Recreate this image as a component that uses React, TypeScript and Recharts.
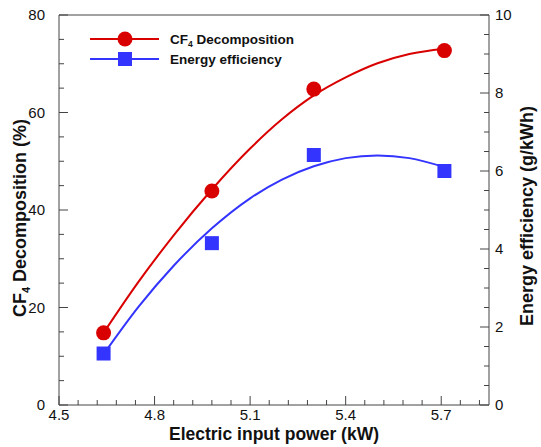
import { ComposedChart, Line, Scatter, XAxis, YAxis, ReferenceLine, Legend } from "recharts";

// measured points
const powerMeasured = [4.64, 4.98, 5.3, 5.71];
const decompMeasured = [14.8, 43.9, 64.8, 72.7];
const effMeasured = [1.32, 4.15, 6.41, 6.0];

// fitted curves
const powerFit = [4.64, 4.75, 4.86, 4.98, 5.1, 5.2, 5.3, 5.4, 5.5, 5.6, 5.71];
const decompFit = [14.8, 25.3, 34.8, 44.2, 52.6, 58.6, 63.5, 67.2, 70.1, 72.0, 73.1];
const effFit = [1.3, 2.52, 3.57, 4.53, 5.3, 5.78, 6.12, 6.33, 6.4, 6.33, 6.1];

const xTicks = [4.5, 4.56, 4.62, 4.68, 4.74, 4.8, 4.86, 4.92, 4.98, 5.04, 5.1, 5.16, 5.22, 5.28, 5.34, 5.4, 5.46, 5.52, 5.58, 5.64, 5.7, 5.76, 5.82];
const xMajor = [4.5, 4.8, 5.1, 5.4, 5.7];
const leftTicks = [0, 5, 10, 15, 20, 25, 30, 35, 40, 45, 50, 55, 60, 65, 70, 75, 80];
const leftMajor = [0, 20, 40, 60, 80];
const rightTicks = [0, 0.5, 1, 1.5, 2, 2.5, 3, 3.5, 4, 4.5, 5, 5.5, 6, 6.5, 7, 7.5, 8, 8.5, 9, 9.5, 10];
const rightMajor = [0, 2, 4, 6, 8, 10];

const fitData = powerFit.map((x, i) => ({ x, decomp: decompFit[i], eff: effFit[i] }));
const decompPoints = powerMeasured.map((x, i) => ({ x, y: decompMeasured[i] }));
const effPoints = powerMeasured.map((x, i) => ({ x, y: effMeasured[i] }));

const RED = "#d90000";
const BLUE = "#3434ff";
const AXIS = "#444";
const FONT = "'Liberation Sans', Arial, sans-serif";

const XTick = (props: any) => {
  const { x, y, payload } = props;
  const major = xMajor.includes(payload.value);
  return (
    <g>
      <line x1={x} x2={x} y1={y} y2={y - (major ? 9 : 5)} stroke={AXIS} />
      {major && (
        <text x={x} y={y + 15} textAnchor="middle" fontSize={15} fontFamily={FONT} fill="#111">
          {payload.value.toFixed(1)}
        </text>
      )}
    </g>
  );
};

const LeftTick = (props: any) => {
  const { x, y, payload } = props;
  const major = leftMajor.includes(payload.value);
  return (
    <g>
      <line x1={x} x2={x + (major ? 9 : 5)} y1={y} y2={y} stroke={AXIS} />
      {major && (
        <text x={x - 14} y={y + 5} textAnchor="end" fontSize={15} fontFamily={FONT} fill="#111">
          {payload.value}
        </text>
      )}
    </g>
  );
};

const RightTick = (props: any) => {
  const { x, y, payload } = props;
  const major = rightMajor.includes(payload.value);
  return (
    <g>
      <line x1={x} x2={x - (major ? 9 : 5)} y1={y} y2={y} stroke={AXIS} />
      {major && (
        <text x={x + 6} y={y + 5} textAnchor="start" fontSize={15} fontFamily={FONT} fill="#111">
          {payload.value}
        </text>
      )}
    </g>
  );
};

const BottomTitle = () => (
  <text x={274} y={439.5} textAnchor="middle" fontSize={17.5} fontWeight="bold" fontFamily={FONT} fill="#111">
    Electric input power (kW)
  </text>
);

const LeftTitle = () => (
  <text x={26} y={218} transform="rotate(-90, 26, 218)" textAnchor="middle" fontSize={18} fontWeight="bold" fontFamily={FONT} fill="#111">
    <tspan>CF</tspan>
    <tspan fontSize={11} dy={4}>4</tspan>
    <tspan dy={-4}> Decomposition (%)</tspan>
  </text>
);

const RightTitle = () => (
  <text x={533} y={216} transform="rotate(-90, 533, 216)" textAnchor="middle" fontSize={18} fontWeight="bold" fontFamily={FONT} fill="#111">
    Energy efficiency (g/kWh)
  </text>
);

const Circle = (props: any) => <circle cx={props.cx} cy={props.cy} r={7.5} fill={RED} />;
const Square = (props: any) => <rect x={props.cx - 7} y={props.cy - 7} width={14} height={14} fill={BLUE} />;

const LegendBox = () => (
  <svg width={240} height={46}>
    <line x1={10} x2={79} y1={14} y2={14} stroke={RED} strokeWidth={2} />
    <circle cx={45} cy={14} r={7.5} fill={RED} />
    <text x={90} y={19} fontSize={13.5} fontWeight="bold" fontFamily={FONT} fill="#111">
      <tspan>CF</tspan>
      <tspan fontSize={8.5} dy={3}>4</tspan>
      <tspan dy={-3}> Decomposition</tspan>
    </text>
    <line x1={10} x2={79} y1={34} y2={34} stroke={BLUE} strokeWidth={2} />
    <rect x={38} y={27} width={14} height={14} fill={BLUE} />
    <text x={90} y={39} fontSize={13.5} fontWeight="bold" fontFamily={FONT} fill="#111">
      Energy efficiency
    </text>
  </svg>
);

export default function App() {
  return (
    <div style={{ position: "absolute", left: 0, top: 0, width: 541, height: 447, overflow: "hidden", background: "#fff" }}>
      <ComposedChart width={541} height={447} data={fitData} margin={{ top: 15, right: 0, bottom: 0, left: 0 }}>
        <XAxis
          dataKey="x"
          type="number"
          domain={[4.5, 5.85]}
          ticks={xTicks}
          interval={0}
          tickSize={0}
          tickMargin={0}
          tick={<XTick />}
          height={42}
          stroke={AXIS}
          label={<BottomTitle />}
        />
        <YAxis
          yAxisId="left"
          type="number"
          domain={[0, 80]}
          ticks={leftTicks}
          interval={0}
          tickSize={0}
          tickMargin={0}
          tick={<LeftTick />}
          width={59}
          stroke={AXIS}
          label={<LeftTitle />}
        />
        <YAxis
          yAxisId="right"
          orientation="right"
          type="number"
          domain={[0, 10]}
          ticks={rightTicks}
          interval={0}
          tickSize={0}
          tickMargin={0}
          tick={<RightTick />}
          width={52}
          stroke={AXIS}
          label={<RightTitle />}
        />
        <ReferenceLine yAxisId="left" y={80} stroke={AXIS} />
        <Line yAxisId="left" type="monotone" dataKey="decomp" stroke={RED} strokeWidth={2} dot={false} isAnimationActive={false} />
        <Line yAxisId="right" type="monotone" dataKey="eff" stroke={BLUE} strokeWidth={2} dot={false} isAnimationActive={false} />
        <Scatter yAxisId="left" data={decompPoints} dataKey="y" shape={<Circle />} isAnimationActive={false} />
        <Scatter yAxisId="right" data={effPoints} dataKey="y" shape={<Square />} isAnimationActive={false} />
        <Legend
          layout="horizontal"
          align="center"
          verticalAlign="middle"
          content={<LegendBox />}
          wrapperStyle={{ left: 80, top: 25, width: 240, height: 46 }}
        />
      </ComposedChart>
    </div>
  );
}
